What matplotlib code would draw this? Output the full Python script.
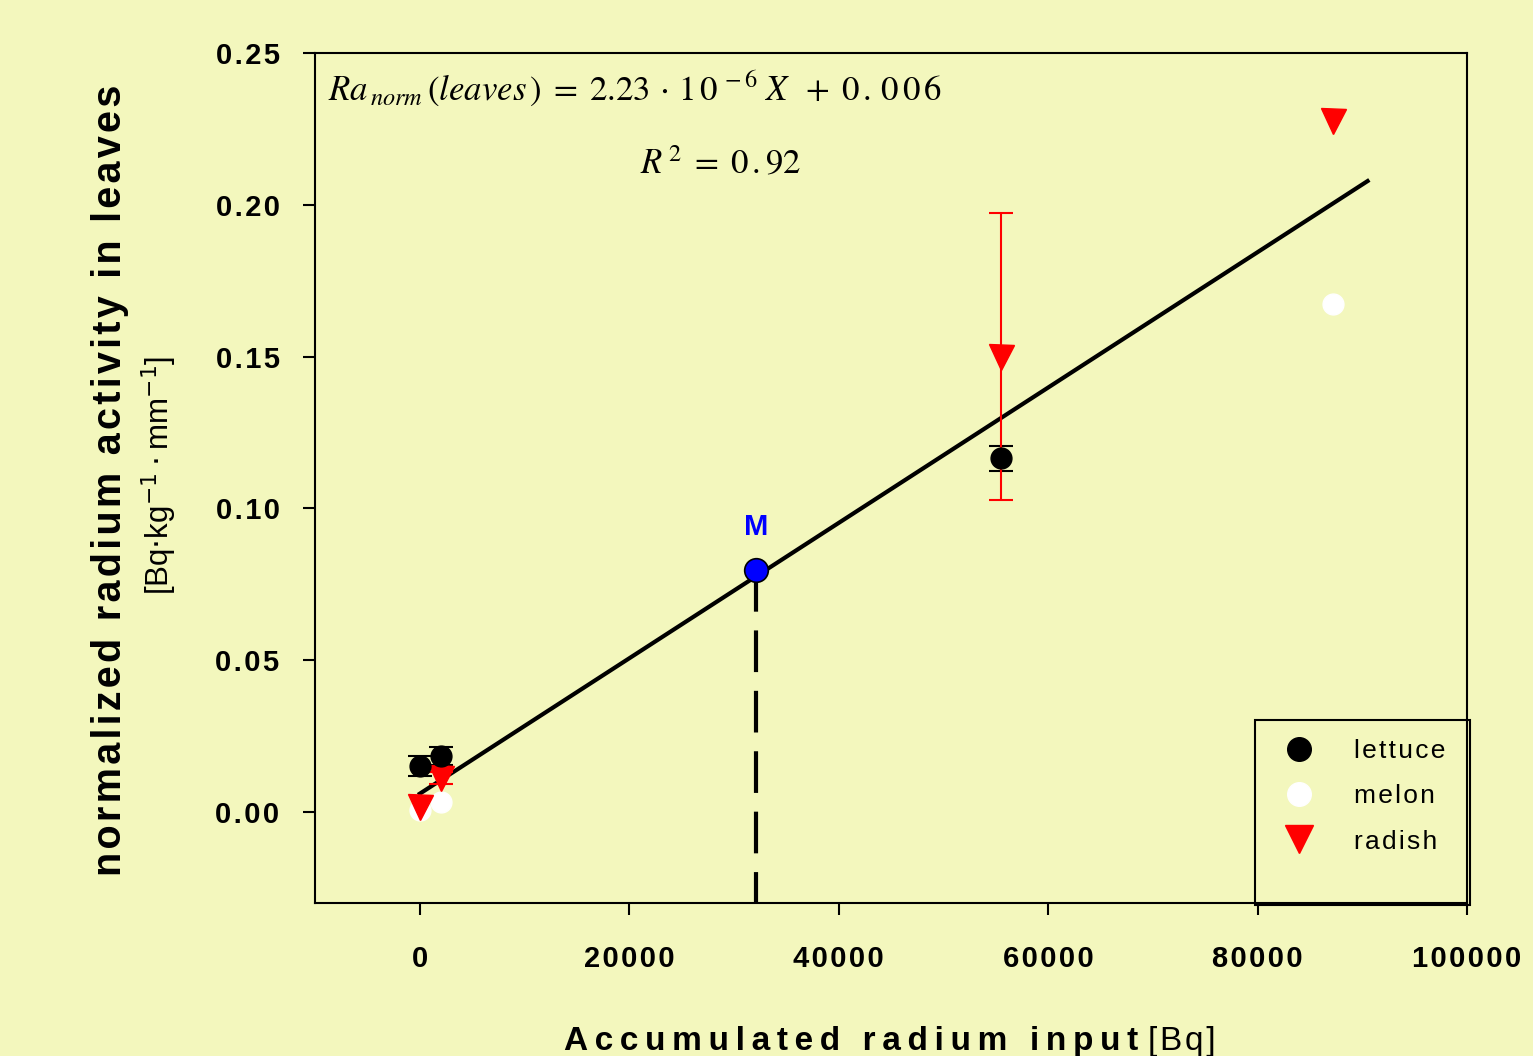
import matplotlib
matplotlib.use("Agg")
import matplotlib.pyplot as plt
from matplotlib.patches import Rectangle
from matplotlib.lines import Line2D

plt.rcParams["font.family"] = ["Liberation Sans", "DejaVu Sans"]
plt.rcParams["mathtext.fontset"] = "stix"

BG = "#F3F7BD"
HAIR = "\u200a"
THIN = "\u2009"


def spaced(s: str, sep: str = HAIR) -> str:
    return sep.join(s)


# data
lettuce_x = [0, 2000, 55500]
lettuce_y = [0.0151, 0.0184, 0.1165]
lettuce_err = [0.0033, 0.0030, 0.0041]

melon_x = [0, 2000, 87200]
melon_y = [0.0005, 0.0033, 0.1674]

radish_x = [0, 2000, 55500, 87200]
radish_y = [0.0016, 0.0112, 0.1500, 0.2276]
radish_err_x = [2000, 55500]
radish_err_y = [0.0112, 0.1500]
radish_err = [0.0020, 0.0473]

fit_slope = 2.23e-6
fit_icept = 0.006
fit_x = [0, 90500]

m_x = 32100
m_y = 0.0796

x_ticks = [0, 20000, 40000, 60000, 80000, 100000]
y_ticks = [0.00, 0.05, 0.10, 0.15, 0.20, 0.25]

fig = plt.figure(figsize=(15.33, 10.56), dpi=100, facecolor=BG)
ax = fig.add_axes([0.2055, 0.1449, 0.7515, 0.8049], facecolor=BG)

# regression line
ax.plot(fit_x, [fit_slope * x + fit_icept for x in fit_x], color="black", lw=3, zorder=2)

# M marker with dashed drop line
ax.plot([m_x, m_x], [m_y, -0.03], color="black", lw=3, dashes=(10, 4.5), zorder=2)
ax.plot([m_x], [m_y], "o", ms=17, mfc="#0000FF", mec="black", mew=1.2, zorder=5)
ax.text(m_x, m_y + 0.0095, "M", color="#0000FF", fontsize=21, fontweight="bold",
        ha="center", va="bottom")

# melon (white, drawn first so others sit on top)
ax.plot(melon_x, melon_y, "o", ms=15, mfc="white", mec="white", ls="none", zorder=3)

# lettuce
ax.errorbar(lettuce_x, lettuce_y, yerr=lettuce_err, fmt="o", ms=15, mfc="black",
            mec="black", ecolor="black", elinewidth=1.5, capsize=8.5, capthick=1.5, zorder=4)

# radish
ax.errorbar(radish_err_x, radish_err_y, yerr=radish_err, fmt="none", ecolor="#FF0000",
            elinewidth=1.5, capsize=8.5, capthick=1.5, zorder=4)
ax.plot(radish_x, radish_y, "v", ms=18, mfc="#FF0000", mec="#FF0000", ls="none", zorder=4)

ax.set_xlim(-10000, 100000)
ax.set_ylim(-0.03, 0.25)
ax.set_xticks(x_ticks)
ax.set_yticks(y_ticks)
ax.set_xticklabels([spaced(str(v)) for v in x_ticks])
ax.set_yticklabels([spaced(f"{v:.2f}") for v in y_ticks])
ax.tick_params(direction="out", length=8.5, width=1.5, labelsize=21, colors="black")
ax.tick_params(axis="x", pad=22)
ax.tick_params(axis="y", pad=17)
for lab in ax.get_xticklabels() + ax.get_yticklabels():
    lab.set_fontweight("bold")
for s in ax.spines.values():
    s.set_linewidth(1.5)

# equation text
ax.text(0.011, 0.945,
        r"$Ra_{\,norm}\,(leaves\,)\; = \;2.23\,\cdot\,1\,0^{\,-6}\;X\;\; + \;0\,.\,0\,0\,6$",
        transform=ax.transAxes, fontsize=25, ha="left", va="baseline")
ax.text(0.282, 0.858, r"$R^{\,2}\; = \;0\,.92$", transform=ax.transAxes,
        fontsize=25, ha="left", va="baseline")

# legend with its own frame box
handles = [
    Line2D([], [], marker="o", ls="none", ms=17, mfc="black", mec="black"),
    Line2D([], [], marker="o", ls="none", ms=17, mfc="white", mec="white"),
    Line2D([], [], marker="v", ls="none", ms=20, mfc="#FF0000", mec="#FF0000"),
]
ax.legend(handles, [spaced("lettuce"), spaced("melon"), spaced("radish")],
          loc="upper left", bbox_to_anchor=(0.822, 0.205), frameon=False,
          fontsize=19, handletextpad=1.1, labelspacing=0.8, borderaxespad=0)
ax.add_patch(Rectangle((0.816, -0.0024), 0.1866, 0.2177, transform=ax.transAxes,
                       fill=False, ec="black", lw=1.5, clip_on=False, zorder=6))

# axis titles
fig.text(0.072, 0.5455, spaced("normalized radium activity in leaves"), rotation=90,
         fontsize=28.5, fontweight="bold", ha="center", va="center")
fig.text(0.104, 0.55, r"[Bq$\cdot$kg$^{-1}\cdot$mm$^{-1}$]", rotation=90,
         fontsize=22.5, ha="center", va="center",
         math_fontfamily="dejavusans")

fig.canvas.draw()
t1 = fig.text(0.368, 0.006, spaced("Accumulated radium input", THIN), fontsize=24,
              fontweight="bold", ha="left", va="baseline")
fig.canvas.draw()
bb = t1.get_window_extent()
fig.text((bb.x1 + 10) / fig.bbox.width, 0.006, spaced("[Bq]"), fontsize=24,
         ha="left", va="baseline")

fig.savefig("out.png", dpi=100, facecolor=BG)
